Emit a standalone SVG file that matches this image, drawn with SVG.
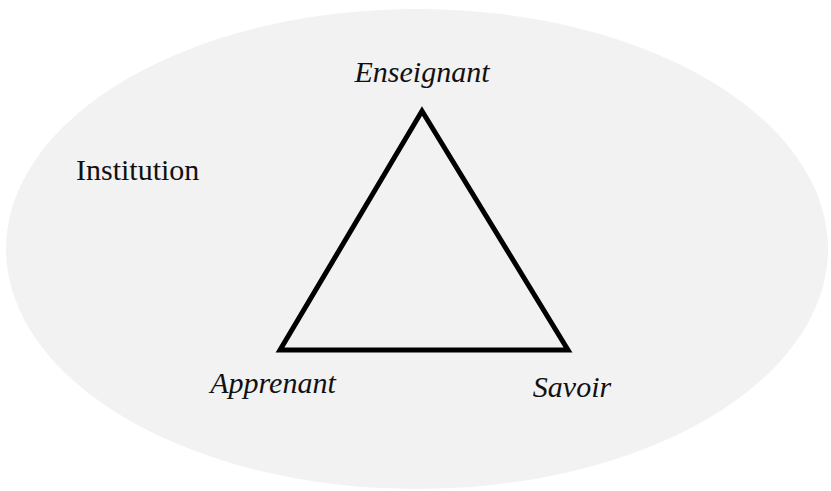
<svg xmlns="http://www.w3.org/2000/svg" width="831" height="491" viewBox="0 0 831 491">
<style>
.lbl{font-family:"Liberation Serif","Times New Roman",serif;font-size:30px;fill:#111}
.it{font-style:italic}
</style>
<rect width="831" height="491" fill="#ffffff"/>
<g id="institution">
<ellipse cx="417" cy="249" rx="411" ry="240" fill="#f2f2f2"/>
<text class="lbl" x="76" y="180">Institution</text>
</g>
<g id="connectors">
<polygon points="422,111 280,350 568,350" fill="none" stroke="#000" stroke-width="5" stroke-linejoin="miter"/>
</g>
<g id="enseignant"><text class="lbl it" x="422" y="82" text-anchor="middle">Enseignant</text></g>
<g id="apprenant"><text class="lbl it" x="273" y="393" text-anchor="middle">Apprenant</text></g>
<g id="savoir"><text class="lbl it" x="572" y="397" text-anchor="middle">Savoir</text></g>
</svg>
